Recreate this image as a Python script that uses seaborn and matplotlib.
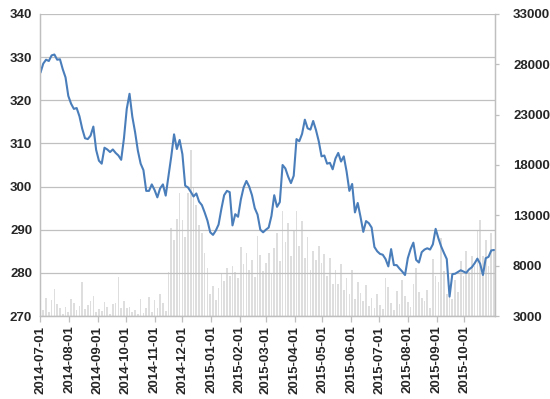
import matplotlib
matplotlib.use('Agg')

import matplotlib.pyplot as plt
import matplotlib.dates as mdates
import pandas as pd
import seaborn as sns

# odczyty z wykresu, co 3 dni od 2014-07-01
start_date = '2014-07-01'

price = [
    326.4, 328.5, 329.4, 329.1, 330.4, 330.6, 329.4, 329.5, 327.2, 325.3,
    321.0, 319.2, 318.0, 318.2, 316.3, 313.4, 311.2, 311.0, 311.8, 313.9,
    308.5, 306.0, 305.3, 309.0, 308.6, 308.0, 308.6, 307.8, 307.2, 306.2,
    311.2, 318.0, 321.5, 316.2, 312.6, 308.3, 305.3, 303.8, 299.0, 299.0,
    300.5, 299.2, 297.5, 299.6, 300.5, 297.9, 302.4, 307.0, 312.1, 308.7,
    310.8, 307.5, 300.2, 299.8, 298.8, 297.7, 298.4, 296.5, 295.7, 294.0,
    292.1, 289.4, 288.8, 289.8, 291.2, 294.8, 298.0, 299.0, 298.7, 291.0,
    293.6, 293.0, 297.0, 299.8, 301.3, 300.0, 298.0, 295.0, 293.5, 290.0,
    289.4, 290.0, 290.5, 293.2, 298.0, 295.3, 296.4, 305.0, 304.2, 302.3,
    300.8, 302.5, 311.0, 310.5, 312.2, 315.5, 313.5, 313.2, 315.2, 313.1,
    310.5, 307.0, 307.2, 305.3, 305.5, 304.0, 306.5, 307.8, 305.8, 307.0,
    303.5, 299.0, 300.6, 294.0, 296.2, 293.0, 289.5, 292.0, 291.5, 290.5,
    286.0, 285.0, 284.4, 284.2, 283.2, 281.5, 285.5, 281.8, 281.8, 281.0,
    280.3, 279.5, 283.4, 285.5, 287.0, 283.0, 282.4, 284.8, 285.4, 285.7,
    285.4, 286.6, 290.2, 288.0, 286.1, 284.6, 283.2, 274.5, 279.7, 279.8,
    280.2, 280.6, 280.3, 280.0, 280.8, 281.3, 282.2, 283.3, 282.1, 279.5,
    283.4, 283.7, 285.2, 285.3,
]

volume = [
    3300, 3600, 4800, 3400, 4600, 5700, 4200, 3800, 3200, 3900,
    3400, 4700, 4300, 3600, 4000, 6400, 3700, 4100, 4500, 5000,
    3400, 3700, 3500, 4400, 3900, 3200, 4200, 4300, 6900, 3800,
    4500, 3800, 3900, 3400, 3600, 3200, 4700, 3300, 3800, 4900,
    3400, 4600, 3800, 5200, 4300, 3500, 7400, 11700, 10500, 12600,
    15200, 12500, 10800, 15200, 19500, 15800, 14000, 12000, 11200, 9300,
    7800, 5200, 6000, 4600, 5800, 7200, 6500, 7800, 7000, 8000,
    7400, 6800, 9900, 8200, 9300, 7600, 8600, 6900, 10900, 9100,
    7500, 8300, 9300, 7200, 9800, 11200, 8500, 13400, 10400, 12200,
    9000, 11500, 13400, 10000, 12400, 8800, 10800, 7600, 9500, 8600,
    10000, 8300, 9200, 7000, 8800, 6200, 7600, 6200, 8200, 5600,
    6800, 5200, 7600, 4700, 6400, 5300, 4500, 6100, 4000, 4800,
    3800, 5200, 4100, 3700, 6800, 5900, 4300, 3600, 5500, 4200,
    6600, 5000, 4400, 3900, 6200, 7800, 5400, 4800, 4500, 5600,
    3800, 8700, 7000, 6400, 10700, 7500, 5200, 6000, 4700, 6600,
    5400, 8500, 7000, 9500, 7400, 9000, 8000, 11500, 12500, 9000,
    10500, 8000, 11200, 9600,
]

df = pd.DataFrame({
    'date': pd.date_range(start_date, periods=len(price), freq='3D'),
    'price': price,
    'volume': volume,
})

sns.set_style('white')
plt.rcParams['font.family'] = ['Liberation Sans', 'DejaVu Sans']

fig = plt.figure(figsize=(5.5, 3.99), dpi=100)
ax = fig.add_axes([0.0736, 0.208, 0.8264, 0.757])
ax2 = ax.twinx()

# slupki wolumenu (prawa os)
ax2.bar(df['date'], df['volume'] - 3000, bottom=3000, width=1.8,
        color='#dedede', linewidth=0)
ax2.set_ylim(3000, 33000)
ax2.set_yticks(range(3000, 33001, 5000))

# linia ceny (lewa os) nad slupkami
ax.set_zorder(ax2.get_zorder() + 1)
ax.patch.set_visible(False)
sns.lineplot(data=df, x='date', y='price', ax=ax, color='#4a7ebb', linewidth=1.5)
ax.set_ylim(270, 340)
ax.set_yticks(range(270, 341, 10))
ax.grid(axis='y', color='#c0c0c0', linewidth=0.9)
ax.set_xlim(pd.Timestamp('2014-07-01'), pd.Timestamp('2015-11-03'))
ax2.set_xlim(ax.get_xlim())

months = pd.date_range('2014-07-01', '2015-10-01', freq='MS')
ax.set_xticks(months)
ax.xaxis.set_major_formatter(mdates.DateFormatter('%Y-%m-%d'))
ax.set_xlabel('')
ax.set_ylabel('')

for a in (ax, ax2):
    a.spines['top'].set_visible(False)
    for side in ('left', 'right', 'bottom'):
        a.spines[side].set_color('#bfbfbf')
        a.spines[side].set_linewidth(0.9)

ax.tick_params(axis='x', rotation=90, labelsize=9.5, length=4, width=0.9,
               color='#bfbfbf', pad=3, direction='out', bottom=True)
ax.tick_params(axis='y', labelsize=9.5, length=0, pad=6)
ax2.tick_params(axis='y', labelsize=9.5, length=3, width=0.9,
                color='#bfbfbf', pad=10, direction='out', right=True)

for lab in ax.get_xticklabels() + ax.get_yticklabels() + ax2.get_yticklabels():
    lab.set_fontweight('bold')

plt.savefig('out.png', dpi=100)
